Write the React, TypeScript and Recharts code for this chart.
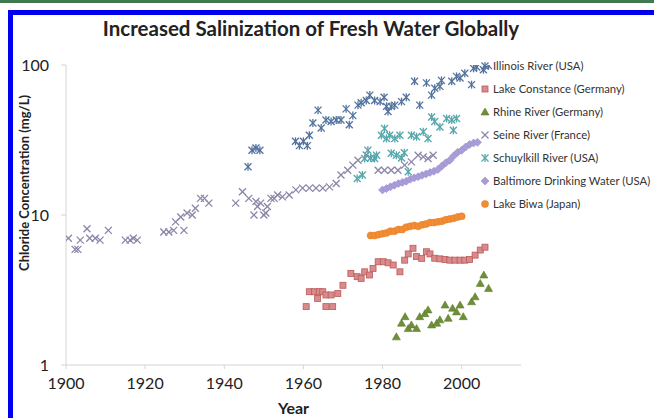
import React from 'react';
import { ScatterChart, Scatter, XAxis, YAxis, Label } from 'recharts';

const FONT = 'Lato, "Open Sans", sans-serif';

const illinoisYears = [1946, 1947, 1948, 1949, 1958, 1959, 1960, 1961, 1961.5, 1962.4, 1963.7, 1964.5, 1965.7, 1967, 1968.3, 1969.5, 1970.8, 1971.6, 1972.5, 1973.8, 1974.6, 1975.9, 1976.8, 1978, 1979.4, 1980.4, 1981, 1981.4, 1982.2, 1983.1, 1984.8, 1986, 1988.1, 1989.4, 1991.1, 1992.4, 1993.2, 1994.5, 1994.9, 1997.5, 1998.7, 1999.6, 2000.8, 2002.5, 2003, 2003.8, 2005.5, 2006.8];
const illinoisValues = [21, 27, 28, 27, 31, 29, 31, 29, 34, 41, 50, 38, 43, 42, 43, 43, 51, 40, 46, 54, 56, 58, 63, 58, 57, 61, 53, 49, 53, 54, 57, 61, 78, 54, 76, 63, 70, 72, 79, 78, 84, 82, 88, 74, 95, 97, 93, 99];

const constanceYears = [1960.7, 1961.5, 1962.8, 1963.6, 1964, 1964.9, 1965.7, 1965.7, 1967, 1967.4, 1968.7, 1970, 1972, 1973.6, 1974.6, 1975.5, 1976.7, 1977.6, 1978.9, 1980.2, 1981.4, 1982.7, 1984.4, 1985.6, 1986.5, 1987.7, 1988.6, 1989.9, 1991.1, 1992, 1993.2, 1994.5, 1995.8, 1997, 1998.3, 1999.6, 2000.8, 2002, 2003.4, 2004.7, 2005.9];
const constanceValues = [2.45, 3.08, 3.08, 2.78, 3.08, 3.08, 2.93, 2.45, 2.93, 2.45, 3.0, 3.4, 4.08, 3.88, 3.78, 4.18, 3.98, 4.4, 4.88, 4.88, 4.8, 4.64, 4.18, 5.0, 5.5, 6.0, 5.28, 5.14, 5.69, 5.5, 5.15, 5.1, 5.05, 5.0, 5.0, 5.0, 5.0, 5.05, 5.4, 5.84, 6.1];

const rhineYears = [1983.5, 1984.8, 1985.7, 1986.5, 1987.3, 1988.6, 1989.4, 1990.7, 1991.5, 1992.4, 1993.7, 1994.5, 1995.8, 1996.6, 1997.7, 1998.7, 1999.6, 2000.4, 2002.5, 2003.4, 2004.7, 2005.6, 2006.8];
const rhineValues = [1.54, 1.9, 2.1, 1.75, 1.85, 1.75, 2.1, 2.2, 2.33, 1.85, 1.9, 2.0, 2.51, 2.05, 2.39, 2.26, 2.51, 2.1, 2.64, 2.85, 3.5, 3.98, 3.24];

const seineYears = [1900.6, 1902.3, 1903, 1903.6, 1905.3, 1906, 1907.4, 1908.6, 1910.7, 1915, 1916.2, 1917, 1918, 1924.7, 1926, 1927.2, 1927.7, 1929, 1929.8, 1930.6, 1931.9, 1932.7, 1934, 1935, 1936.1, 1942.9, 1944.6, 1946.2, 1947.5, 1948, 1948.4, 1949.2, 1950, 1950.5, 1950.9, 1951.8, 1952.6, 1953.5, 1954.7, 1956.4, 1958.1, 1959.8, 1961.5, 1963.2, 1964.9, 1966.6, 1968.3, 1969.5, 1971.2, 1972.5, 1973.8, 1975.9, 1978.9, 1980.5, 1982.2, 1983.9, 1985.6, 1987.3, 1989, 1990.3, 1991.5, 1992.8];
const seineValues = [7.0, 5.9, 5.9, 6.8, 8.1, 7.0, 7.0, 6.8, 7.9, 6.8, 6.8, 7.0, 6.8, 7.7, 7.7, 7.9, 9.0, 9.7, 7.9, 10.3, 10, 11.1, 12.9, 12.9, 12, 12, 14.3, 12.9, 10, 12.3, 11.4, 12, 10, 10.3, 11.4, 12.9, 12.9, 13.6, 13.2, 13.6, 14.7, 15.1, 15.1, 15.1, 15.1, 15.4, 16.2, 18.5, 19.9, 21.5, 23.2, 25.1, 19.9, 19.9, 19.9, 19.9, 21.5, 22.6, 25, 24.4, 23.8, 25];

const schuylkillYears = [1973.6, 1974.9, 1975.5, 1976.3, 1977, 1978, 1978.5, 1979.7, 1980.5, 1981, 1981.8, 1982.2, 1983.1, 1983.5, 1984.4, 1984.8, 1985.5, 1986.5, 1987.3, 1988.6, 1990.3, 1991.5, 1992.4, 1993.2, 1994.5, 1996.2, 1997.5, 1997.9, 1998.7];
const schuylkillValues = [17.5, 18.5, 23.8, 27, 24, 23.8, 25, 34, 37.7, 32.4, 34, 25.8, 32.4, 25, 34, 24, 26, 19.4, 34, 33.2, 35.9, 32.4, 45, 42, 38.6, 44, 43, 36.7, 44];

const baltimoreYears = [1980, 1981, 1982, 1983, 1984, 1985, 1986, 1987, 1988, 1989, 1990, 1991, 1992, 1993, 1994, 1995, 1996, 1997, 1998, 1999, 2000, 2001, 2002, 2003, 2004];
const baltimoreValues = [14.7, 15.0, 15.4, 15.8, 16.2, 16.5, 16.8, 17.3, 17.7, 18.0, 18.4, 18.8, 19.2, 19.6, 20.1, 21.2, 22.3, 23.2, 24.8, 26.2, 27.0, 28.4, 29.5, 30.2, 30.5];

const biwaYears = [1977, 1978, 1979, 1980, 1981, 1982, 1983, 1984, 1985, 1986, 1987, 1988, 1989, 1990, 1991, 1992, 1993, 1994, 1995, 1996, 1997, 1998, 1999, 2000];
const biwaValues = [7.3, 7.3, 7.4, 7.5, 7.6, 7.8, 7.8, 8.0, 8.0, 8.3, 8.4, 8.5, 8.4, 8.6, 8.7, 8.9, 8.9, 9.0, 9.1, 9.3, 9.4, 9.5, 9.7, 9.8];

const yearTicks = [1900, 1920, 1940, 1960, 1980, 2000];
const valueTicks = [1, 10, 100];

const toPoints = (years: number[], values: number[]) =>
  years.map((year, i) => ({ year, value: values[i] }));

type Kind = 'x' | 'star' | 'square' | 'triangle' | 'diamond' | 'circle';

function Marker({ cx, cy, kind, color, edge }: { cx: number; cy: number; kind: Kind; color: string; edge: string }) {
  if (cx == null || cy == null) return null;
  const r = 3.5;
  if (kind === 'x' || kind === 'star') {
    return (
      <g stroke={color} strokeWidth={1.3}>
        <line x1={cx - r} y1={cy - r} x2={cx + r} y2={cy + r} />
        <line x1={cx - r} y1={cy + r} x2={cx + r} y2={cy - r} />
        {kind === 'star' && <line x1={cx} y1={cy - r - 0.5} x2={cx} y2={cy + r + 0.5} />}
      </g>
    );
  }
  if (kind === 'square') {
    return <rect x={cx - 3} y={cy - 3} width={6} height={6} fill={color} stroke={edge} strokeWidth={0.8} />;
  }
  if (kind === 'triangle') {
    return <path d={`M${cx},${cy - 4} L${cx + 4},${cy + 3} L${cx - 4},${cy + 3} Z`} fill={color} stroke={edge} strokeWidth={0.6} />;
  }
  if (kind === 'diamond') {
    return <path d={`M${cx},${cy - 4} L${cx + 4},${cy} L${cx},${cy + 4} L${cx - 4},${cy} Z`} fill={color} stroke={edge} strokeWidth={0.6} />;
  }
  return <circle cx={cx} cy={cy} r={3.5} fill={color} stroke={edge} strokeWidth={0.6} />;
}

const series = [
  { name: 'Illinois River (USA)', kind: 'star' as Kind, color: '#53739e', edge: '#53739e', data: toPoints(illinoisYears, illinoisValues) },
  { name: 'Lake Constance (Germany)', kind: 'square' as Kind, color: '#d88a8c', edge: '#bd5a5a', data: toPoints(constanceYears, constanceValues) },
  { name: 'Rhine River (Germany)', kind: 'triangle' as Kind, color: '#6e8e38', edge: '#5f7d2f', data: toPoints(rhineYears, rhineValues) },
  { name: 'Seine River (France)', kind: 'x' as Kind, color: '#8b86a8', edge: '#8b86a8', data: toPoints(seineYears, seineValues) },
  { name: 'Schuylkill River (USA)', kind: 'star' as Kind, color: '#55a7ac', edge: '#55a7ac', data: toPoints(schuylkillYears, schuylkillValues) },
  { name: 'Baltimore Drinking Water (USA)', kind: 'diamond' as Kind, color: '#a99dd9', edge: '#9a8dcc', data: toPoints(baltimoreYears, baltimoreValues) },
  { name: 'Lake Biwa (Japan)', kind: 'circle' as Kind, color: '#f28c35', edge: '#e57d25', data: toPoints(biwaYears, biwaValues) },
];

function LegendBox() {
  return (
    <div style={{ position: 'absolute', left: 480, top: 54, fontFamily: FONT, fontSize: 11.3, color: '#333' }}>
      {series.map((s) => (
        <div key={s.name} style={{ display: 'flex', alignItems: 'center', height: 23, whiteSpace: 'nowrap' }}>
          <svg width={10} height={10} style={{ marginRight: 3 }}>
            <Marker cx={5} cy={5} kind={s.kind} color={s.color} edge={s.edge} />
          </svg>
          <span>{s.name}</span>
        </div>
      ))}
    </div>
  );
}

// y title sits a little above the middle of the axis, like the original
const YTitle = () => (
  <text x={24} y={183} transform="rotate(-90, 24, 183)" textAnchor="middle" dominantBaseline="central" fill="#222" fontSize={13} fontWeight={700} fontFamily={FONT}>
    Chloride Concentration (mg/L)
  </text>
);

export default function App() {
  return (
    <div style={{ position: 'absolute', left: 0, top: 0, width: 654, height: 418, background: '#fff', overflow: 'hidden' }}>
      <div style={{ position: 'absolute', left: 0, top: 0, width: 654, height: 3, background: '#3d7a50' }} />
      <div style={{ position: 'absolute', left: 8, top: 10, width: 646, height: 5, background: '#0000f0' }} />
      <div style={{ position: 'absolute', left: 8, top: 10, width: 5, height: 408, background: '#0000f0' }} />
      <div style={{ position: 'absolute', left: 0, top: 16, width: 622, textAlign: 'center', fontFamily: FONT, fontWeight: 700, fontSize: 20.5, color: '#222' }}>
        Increased Salinization of Fresh Water Globally
      </div>
      <div style={{ position: 'absolute', left: 0, top: 0 }}>
        <ScatterChart width={654} height={418} margin={{ top: 65, right: 133, bottom: 22, left: 16 }}>
          <XAxis
            type="number"
            dataKey="year"
            domain={[1900, 2015]}
            ticks={yearTicks}
            allowDataOverflow
            stroke="#d4d4d4"
            tickSize={4}
            tickMargin={9}
            tick={{ fill: '#222', fontSize: 16, fontFamily: FONT }}
            height={31}
          >
            <Label value="Year" position="insideBottom" offset={-18} style={{ fill: '#222', fontSize: 16, fontWeight: 700, fontFamily: FONT }} />
          </XAxis>
          <YAxis
            type="number"
            dataKey="value"
            scale="log"
            domain={[1, 100]}
            ticks={valueTicks}
            allowDataOverflow
            stroke="#d4d4d4"
            tickSize={5}
            tickMargin={12}
            width={50}
            tick={{ fill: '#222', fontSize: 16, fontFamily: FONT }}
          >
            <Label content={<YTitle />} />
          </YAxis>
          {series.map((s) => (
            <Scatter
              key={s.name}
              name={s.name}
              data={s.data}
              isAnimationActive={false}
              shape={(p: any) => <Marker cx={p.cx} cy={p.cy} kind={s.kind} color={s.color} edge={s.edge} />}
            />
          ))}
        </ScatterChart>
      </div>
      <LegendBox />
    </div>
  );
}
